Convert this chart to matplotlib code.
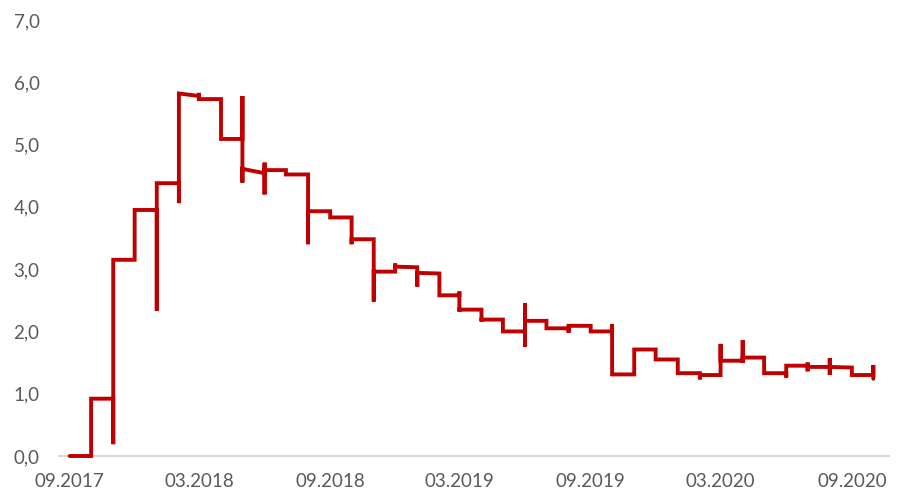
import numpy as np
import pandas as pd
import matplotlib
matplotlib.use("Agg")
import matplotlib.pyplot as plt
import matplotlib.dates as mdates

# month boundaries 09.2017 .. 10.2020
month_starts = pd.date_range("2017-09-01", "2020-10-01", freq="MS")

# value at start / end of each month (37 months)
level_start = [0.00, 0.92, 3.15, 3.95, 4.38, 5.82, 5.73, 5.09, 4.61, 4.59,
               4.52, 3.93, 3.83, 3.48, 2.96, 3.04, 2.94, 2.58, 2.35, 2.19,
               2.00, 2.17, 2.05, 2.09, 2.00, 1.31, 1.71, 1.55, 1.33, 1.30,
               1.53, 1.58, 1.33, 1.45, 1.43, 1.43, 1.30]
level_end = [0.00, 0.92, 3.15, 3.95, 4.38, 5.78, 5.73, 5.09, 4.54, 4.59,
             4.52, 3.93, 3.83, 3.48, 2.96, 3.03, 2.93, 2.58, 2.35, 2.19,
             2.00, 2.17, 2.05, 2.09, 2.00, 1.31, 1.71, 1.55, 1.33, 1.30,
             1.53, 1.58, 1.33, 1.45, 1.43, 1.42, 1.30]

# one-day outliers at the month changes (38 boundaries)
spikes = [[], [], [0.19], [], [2.33], [4.06], [5.83], [], [5.78, 4.39], [4.71, 4.20],
          [], [3.40], [], [3.40], [2.48], [3.09], [2.72], [], [2.64, 2.32], [2.16],
          [], [2.45, 1.75], [], [1.98], [], [2.12], [], [], [], [1.23],
          [1.80], [1.86, 1.50], [], [1.26], [1.50, 1.36], [1.57, 1.30], [], [1.46, 1.24]]

tick_months = month_starts[::6]

xs, ys = [], []
for i in range(len(level_start)):
    for s in spikes[i]:
        xs.append(month_starts[i]); ys.append(s)
    xs.append(month_starts[i]); ys.append(level_start[i])
    xs.append(month_starts[i + 1]); ys.append(level_end[i])
for s in spikes[-1]:
    xs.append(month_starts[-1]); ys.append(s)

plt.rcParams['font.family'] = ['Lato', 'DejaVu Sans']

fig = plt.figure(figsize=(9.01, 5.03), dpi=100)
ax = fig.add_axes([59 / 901, 47 / 503, 830 / 901, 436 / 503])

ax.plot(xs, ys, color='#C00000', lw=2.8, solid_capstyle='round',
        solid_joinstyle='miter', clip_on=False, zorder=5)

ax.set_ylim(0, 7)
ax.set_yticks(np.arange(0, 8, 1))
ax.set_yticklabels([f"{v:.1f}".replace(".", ",") for v in range(8)])
ax.set_xlim(month_starts[0] - pd.Timedelta(days=15), month_starts[-1] + pd.Timedelta(days=22))
ax.set_xticks(tick_months)
ax.xaxis.set_major_formatter(mdates.DateFormatter("%m.%Y"))

for sp in ['top', 'right', 'left']:
    ax.spines[sp].set_visible(False)
ax.spines['bottom'].set_color('#D9D9D9')
ax.spines['bottom'].set_linewidth(1.5)
ax.tick_params(axis='both', length=0, labelsize=13.5, colors='#595959')
ax.tick_params(axis='x', pad=12.5)
ax.tick_params(axis='y', pad=14)

fig.savefig("out.png", dpi=100)
